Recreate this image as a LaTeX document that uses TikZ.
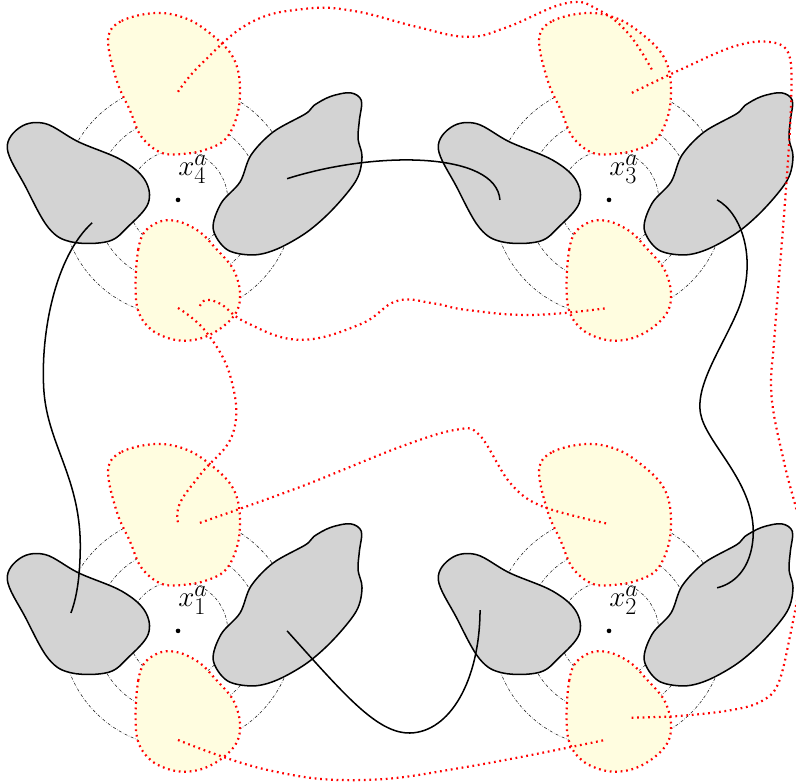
\documentclass[tikz,border=0pt]{standalone}
\usetikzlibrary{calc}

\definecolor{blobgrey}{RGB}{211,211,211}
\definecolor{blobyellow}{RGB}{255,253,224}

\begin{document}
\begin{tikzpicture}[
    ring/.style={line width=0.5pt, black!85, dash pattern=on 2.5pt off 1.4pt on 0.4pt off 1.4pt},
    reddots/.style={line width=1.9pt, dash pattern=on 1.5pt off 3.2pt},
    greyblob/.style={fill=blobgrey, draw=black, line width=1.3pt},
    yellowblob/.style={fill=blobyellow, draw=red, reddots},
    link/.style={line width=1.3pt},
    redlink/.style={draw=red, reddots}
]
\useasboundingbox (-5.37,-4.585) rectangle (18.64,19.03);

% Four clusters around x_1^a ... x_4^a
\foreach \cx/\cy/\k in {0/0/1, 13/0/2, 13/13/3, 0/13/4} {
  \begin{scope}[shift={(\cx,\cy)}]
    \coordinate (c\k) at (0,0);
    % dash-dot rings
    \foreach \r in {1.5,2.5,3.5}
      \draw[ring] (0,0) circle (\r);
    % grey blobs, left and right
    \draw[greyblob] plot [smooth cycle, tension=0.6] coordinates {(-5.15,1.55) (-4.75,2.2) (-4.0,2.3) (-3.0,1.75) (-1.7,1.2) (-1.0,0.6) (-0.9,-0.1) (-1.5,-0.8) (-2.1,-1.25) (-3.2,-1.27) (-3.9,-0.85) (-4.6,0.4)};
    \draw[greyblob] plot [smooth cycle, tension=0.55] coordinates {(1.06,-0.87) (1.3,-0.1) (1.87,0.54) (2.2,1.35) (2.87,2.05) (3.85,2.6) (4.1,2.85) (4.6,3.12) (5.2,3.23) (5.53,3.0) (5.47,2.4) (5.43,1.84) (5.55,1.3) (5.38,0.6) (4.68,-0.27) (3.89,-0.97) (2.99,-1.48) (2.26,-1.66) (1.48,-1.5)};
    % yellow blobs, top and bottom
    \draw[yellowblob] plot [smooth cycle, tension=0.6] coordinates {(-2.11,4.85) (-1.7,5.4) (-0.63,5.64) (0.3,5.45) (1.06,4.95) (1.6,4.4) (1.83,3.8) (1.86,3.0) (1.72,2.35) (1.4,1.8) (0.85,1.52) (0.2,1.39) (-0.5,1.42) (-1.1,1.9) (-1.45,2.7) (-1.85,3.6)};
    \draw[yellowblob] plot [smooth cycle, tension=0.6] coordinates {(-1.28,-2.5) (-1.2,-1.5) (-1.0,-0.95) (-0.5,-0.64) (0.05,-0.66) (0.66,-0.97) (1.1,-1.42) (1.66,-2.08) (1.87,-2.8) (1.75,-3.4) (1.25,-3.9) (0.6,-4.2) (-0.1,-4.22) (-0.8,-3.92) (-1.2,-3.35)};
    % centre and label
    \fill (0,0) circle (0.07);
    \node[anchor=west, inner sep=0pt] (lab\k) at (0,0.93) {\Huge $x_{\k}^{a}$};
  \end{scope}
}

% link ends
\coordinate (ar4) at ($(c4)+(3.29,0.64)$);
\coordinate (al3) at ($(c3)+(-3.29,0)$);
\coordinate (bl4) at ($(c4)+(-2.59,-0.69)$);
\coordinate (bl1) at ($(c1)+(-3.23,0.54)$);
\coordinate (cr1) at ($(c1)+(3.29,0)$);
\coordinate (cl2) at ($(c2)+(-3.89,0.63)$);
\coordinate (dr3) at ($(c3)+(3.26,0)$);
\coordinate (dr2) at ($(c2)+(3.26,1.30)$);
\coordinate (et4) at ($(c4)+(0,3.26)$);
\coordinate (et3) at ($(c3)+(1.33,3.86)$);
\coordinate (ft3) at ($(c3)+(0.69,3.23)$);
\coordinate (fb2) at ($(c2)+(0.63,-2.62)$);
\coordinate (gb4) at ($(c4)+(0.66,-3.2)$);
\coordinate (gb3) at ($(c3)+(-0.03,-3.26)$);
\coordinate (hb4) at ($(c4)+(0,-3.26)$);
\coordinate (ht1) at ($(c1)+(0,3.26)$);
\coordinate (it1) at ($(c1)+(0.66,3.26)$);
\coordinate (it2) at ($(c2)+(-0.03,3.23)$);
\coordinate (jb1) at ($(c1)+(0,-3.29)$);
\coordinate (jb2) at ($(c2)+(-0.12,-3.29)$);

% solid links between grey blobs
\draw[link] (ar4) .. controls (6,14.5) and (9.6,14.45) .. (al3);
\draw[link] (bl4) .. controls (-3.7,11.3) and (-4.15,9.0) .. (-4.05,7.3)
    .. controls (-3.95,5.6) and (-2.9,4.6) .. (-2.95,2.4)
    .. controls (-2.97,1.4) and (-3.1,0.9) .. (bl1);
\draw[link] (cr1) .. controls (5.0,-1.9) and (6.0,-3.1) .. (7.0,-3.08) .. controls (8.2,-3.05) and (9.1,-1.5) .. (cl2);
\draw[link] (dr3) .. controls (17.0,12.6) and (17.5,11.2) .. (16.9,9.7)
    .. controls (16.4,8.5) and (15.5,7.3) .. (15.8,6.4)
    .. controls (16.1,5.5) and (17.4,4.4) .. (17.35,2.9)
    .. controls (17.3,1.8) and (16.7,1.4) .. (dr2);

% dotted links between yellow blobs
\draw[redlink] plot [smooth, tension=0.7] coordinates {(et4) (0.7,17.1) (2.17,18.34) (3.8,18.76) (5.3,18.7) (7.2,18.22) (8.72,17.92) (9.9,18.2) (11.73,18.94) (12.7,18.72) (13.6,18.0) (et3)};
\draw[redlink] plot [smooth, tension=0.6] coordinates {(ft3) (15.2,16.95) (16.74,17.62) (17.77,17.77) (18.4,17.45) (18.5,16.2) (18.35,13.5) (18.0,9.0) (17.9,7.1) (18.3,5.0) (18.75,3.2) (18.8,1.8) (18.45,-0.2) (18.1,-1.6) (17.6,-2.12) (16.74,-2.38) (15.2,-2.56) (fb2)};
\draw[redlink] plot [smooth, tension=0.7] coordinates {(gb4) (0.85,9.98) (1.3,9.85) (2.08,9.29) (3.68,8.78) (5.5,9.25) (6.6,9.95) (7.7,9.88) (8.72,9.68) (10.71,9.53) (gb3)};
\draw[redlink] plot [smooth, tension=0.7] coordinates {(hb4) (0.87,8.99) (1.6,7.6) (1.66,5.97) (0.7,4.75) (0.06,3.86) (ht1)};
\draw[redlink] plot [smooth, tension=0.6] coordinates {(it1) (3.68,4.34) (6.70,5.55) (8.4,6.07) (9.1,5.9) (10.02,4.46) (11.0,3.75) (it2)};
\draw[redlink] plot [smooth, tension=0.7] coordinates {(jb1) (2.68,-4.19) (5.5,-4.5) (8.72,-4.10) (jb2)};
\end{tikzpicture}
\end{document}
